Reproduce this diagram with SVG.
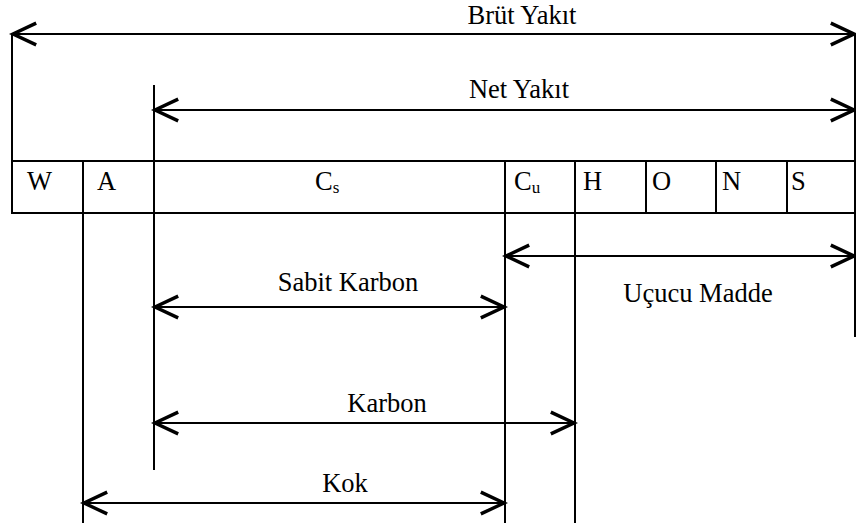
<svg xmlns="http://www.w3.org/2000/svg" width="856" height="527" viewBox="0 0 856 527">
<style>
.ln{stroke:#000;stroke-width:2;fill:none}
.ar{stroke:#000;stroke-width:2;fill:none;marker-start:url(#ah);marker-end:url(#ah)}
</style>
<defs>
<marker id="ah" markerUnits="userSpaceOnUse" markerWidth="30" markerHeight="30" viewBox="-20 -10 22 20" refX="0" refY="0" orient="auto-start-reverse" overflow="visible">
<path d="M-17,-8 L0,0 L-17,8" stroke="#000" stroke-width="2.5" fill="none"/>
</marker>
</defs>
<rect width="856" height="527" fill="#fff"/>
<g id="table" font-family="Liberation Serif, Times New Roman, serif" font-size="26.5" fill="#000">
<rect class="ln" x="12" y="161" width="843" height="52"/>
<line class="ln" x1="83" y1="161" x2="83" y2="213"/>
<line class="ln" x1="154" y1="161" x2="154" y2="213"/>
<line class="ln" x1="505" y1="161" x2="505" y2="213"/>
<line class="ln" x1="575" y1="161" x2="575" y2="213"/>
<line class="ln" x1="646" y1="161" x2="646" y2="213"/>
<line class="ln" x1="716" y1="161" x2="716" y2="213"/>
<line class="ln" x1="787" y1="161" x2="787" y2="213"/>
<text x="27" y="190">W</text>
<text x="97" y="190">A</text>
<text x="315" y="190">C<tspan font-size="17" dy="3">s</tspan></text>
<text x="514" y="190">C<tspan font-size="17" dy="3">u</tspan></text>
<text x="583" y="190">H</text>
<text x="652" y="190">O</text>
<text x="722" y="190">N</text>
<text x="791" y="190">S</text>
</g>
<g id="extension-lines">
<line class="ln" x1="12" y1="33" x2="12" y2="161"/>
<line class="ln" x1="855" y1="33" x2="855" y2="161"/>
<line class="ln" x1="154" y1="85" x2="154" y2="161"/>
<line class="ln" x1="154" y1="213" x2="154" y2="470"/>
<line class="ln" x1="83" y1="213" x2="83" y2="523"/>
<line class="ln" x1="505" y1="213" x2="505" y2="523"/>
<line class="ln" x1="575" y1="213" x2="575" y2="523"/>
<line class="ln" x1="855" y1="213" x2="855" y2="337"/>
</g>
<g id="connectors">
<line class="ar" x1="13" y1="34" x2="854" y2="34"/>
<line class="ar" x1="155" y1="110" x2="854" y2="110"/>
<line class="ar" x1="506" y1="256" x2="854" y2="256"/>
<line class="ar" x1="155" y1="307" x2="504" y2="307"/>
<line class="ar" x1="155" y1="423" x2="574" y2="423"/>
<line class="ar" x1="84" y1="503" x2="504" y2="503"/>
</g>
<g id="labels" font-family="Liberation Serif, Times New Roman, serif" font-size="26.5" fill="#000" text-anchor="middle">
<text x="522" y="24">Brüt Yakıt</text>
<text x="519" y="98">Net Yakıt</text>
<text x="698" y="302">Uçucu Madde</text>
<text x="348" y="291">Sabit Karbon</text>
<text x="387" y="412">Karbon</text>
<text x="345" y="492">Kok</text>
</g>
</svg>
